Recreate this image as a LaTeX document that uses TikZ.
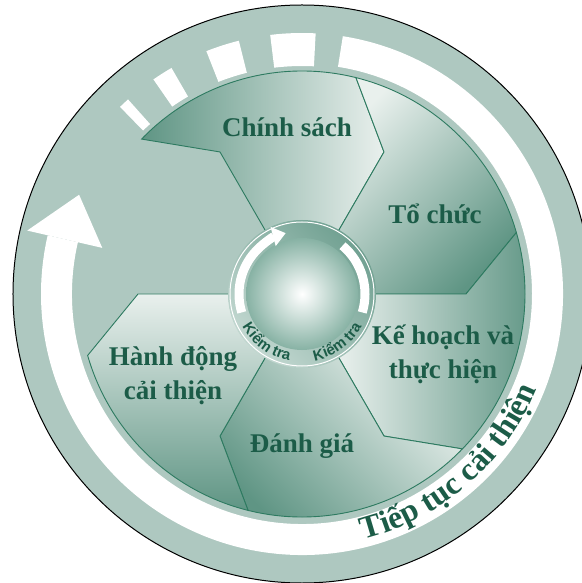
\documentclass[tikz,border=0pt]{standalone}
\usepackage{fontspec}
\setmainfont{Liberation Serif}
\newfontfamily\kfont{Liberation Sans}
\usetikzlibrary{decorations.text, arrows.meta}
\definecolor{bgreen}{RGB}{174,200,192}
\definecolor{tgreen}{RGB}{28,92,72}
\definecolor{lgreen}{RGB}{233,240,237}
\definecolor{dgreen}{RGB}{95,149,132}
\definecolor{lineg}{RGB}{45,122,96}
\definecolor{ringdark}{RGB}{112,160,145}
\definecolor{ringlight}{RGB}{195,216,209}
\definecolor{spheredge}{RGB}{135,178,164}
\begin{document}
\begin{tikzpicture}[x=1pt,y=1pt,
  seg/.style={draw=lineg, line width=0.9pt},
  lab/.style={text=tgreen, font=\bfseries\fontsize{27}{34}\selectfont, align=center, inner sep=0pt, anchor=base},
  band/.style={fill=white},
]
\useasboundingbox (-302,-289) rectangle (279,294);
\fill[white] (-302,-289) rectangle (279,294);
% outer disc
\draw[black, line width=1pt, fill=bgreen] (0,0) circle[radius=289pt];
% white circular arrow band
\path[band] (81:261pt) arc[start angle=81, end angle=-193, radius=261pt]
  -- (-193:230pt) arc[start angle=-193, end angle=81, radius=230pt] -- cycle;
\path[band] (167:205pt) -- (156:244pt) -- (167:282pt) -- cycle;
\foreach \a/\b in {87/97, 104/111.5, 120/124.7, 131.8/134.2}
  \path[band] (\a:228pt) arc[start angle=\a, end angle=\b, radius=228pt]
    -- (\b:261pt) arc[start angle=\b, end angle=\a, radius=261pt] -- cycle;
% segments
\shadedraw[seg, left color=dgreen, right color=lgreen]
  (120:73pt) -- (120:164pt) -- (136:223pt) arc[start angle=136, end angle=76, radius=223pt]
  -- (60:164pt) -- (60:73pt) arc[start angle=60, end angle=120, radius=73pt] -- cycle;
\shadedraw[seg, left color=lgreen, right color=dgreen, shading angle=45]
  (60:73pt) -- (60:164pt) -- (76:223pt) arc[start angle=76, end angle=16, radius=223pt]
  -- (0:164pt) -- (0:73pt) arc[start angle=0, end angle=60, radius=73pt] -- cycle;
\shadedraw[seg, left color=lgreen, right color=dgreen]
  (0:73pt) -- (0:164pt) -- (16:223pt) arc[start angle=16, end angle=-44, radius=223pt]
  -- (-60:164pt) -- (-60:73pt) arc[start angle=-60, end angle=0, radius=73pt] -- cycle;
\shadedraw[seg, left color=lgreen, right color=dgreen, shading angle=-45]
  (-60:73pt) -- (-60:164pt) -- (-44:223pt) arc[start angle=-44, end angle=-104, radius=223pt]
  -- (-120:164pt) -- (-120:73pt) arc[start angle=-120, end angle=-60, radius=73pt] -- cycle;
\shadedraw[seg, top color=lgreen, bottom color=dgreen]
  (-120:73pt) -- (-120:164pt) -- (-104:223pt) arc[start angle=-104, end angle=-164, radius=223pt]
  -- (180:164pt) -- (180:73pt) arc[start angle=180, end angle=240, radius=73pt] -- cycle;
% centre
\shade[left color=ringdark, right color=ringlight, shading angle=-45] (0,0) circle[radius=74pt];
\draw[white, line width=1pt] (0,0) circle[radius=72pt];
\shade[inner color=white, outer color=spheredge] (0,0) circle[radius=56pt];
\draw[white, line width=9pt, -{Triangle[length=13pt, width=19pt]}]
  (197:63pt) arc[start angle=197, end angle=105, radius=63pt];
\draw[white, line width=9pt] (50:63pt) arc[start angle=50, end angle=-17, radius=63pt];
\path[decorate, decoration={text along path, text align=center, text color=tgreen,
  text={|\kfont\bfseries\fontsize{15}{15}\selectfont|Kiểm tra}}]
  (-164:68pt) arc[start angle=-164, end angle=-88, radius=68pt];
\path[decorate, decoration={text along path, text align=center, text color=tgreen,
  text={|\kfont\bfseries\fontsize{15}{15}\selectfont|Kiểm tra}}]
  (-92:68pt) arc[start angle=-92, end angle=-16, radius=68pt];
% labels
\node[lab] (chinhsach) at (-15,157) {Chính sách};
\node[lab] (tochuc) at (133,70) {Tổ chức};
\node[lab] (kehoach) at (141,-84) {Kế hoạch và\\thực hiện};
\node[lab] (danhgia) at (0,-158) {Đánh giá};
\node[lab] (hanhdong) at (-129,-105) {Hành động\\cải thiện};
% band text
\path[decorate, decoration={text along path, text align=center, text color=tgreen,
  text={|\bfseries\fontsize{32}{32}\selectfont|Tiếp tục cải thiện}}]
  (-89:253pt) arc[start angle=-89, end angle=-9, radius=253pt];
\end{tikzpicture}
\end{document}
